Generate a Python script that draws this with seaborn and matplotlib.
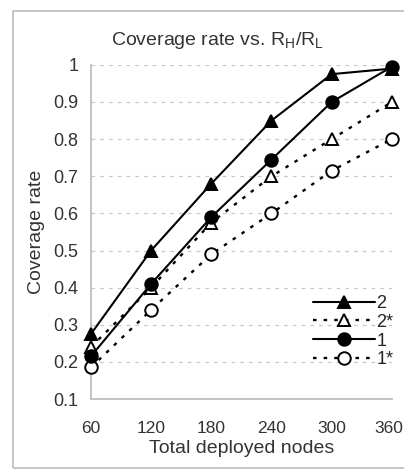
import matplotlib
matplotlib.use("Agg")
import matplotlib.pyplot as plt
import matplotlib.transforms as mtransforms
import seaborn as sns
import pandas as pd
from matplotlib.patches import Rectangle

nodes = [60, 120, 180, 240, 300, 360]
s2 = [0.275, 0.50, 0.68, 0.85, 0.975, 0.99]
s2_star = [0.24, 0.40, 0.575, 0.70, 0.80, 0.90]
s1 = [0.215, 0.41, 0.59, 0.745, 0.90, 0.995]
s1_star = [0.185, 0.34, 0.49, 0.60, 0.715, 0.80]
series_names = ["2", "2*", "1", "1*"]

df = pd.DataFrame({
    "nodes": nodes * 4,
    "rate": s2 + s2_star + s1 + s1_star,
    "series": sum([[n] * len(nodes) for n in series_names], []),
})

sns.set_theme(style="white")
plt.rcParams["font.family"] = ["Liberation Sans", "DejaVu Sans"]

fig = plt.figure(figsize=(4.04, 4.70), dpi=100)
ax = fig.add_axes([0.225, 0.151, 0.745, 0.711])

styles = {
    "2": dict(marker="^", mfc="black", ls="-", lw=1.5),
    "2*": dict(marker="^", mfc="white", ls=(0, (1.5, 3)), lw=1.7),
    "1": dict(marker="o", mfc="black", ls="-", lw=1.5),
    "1*": dict(marker="o", mfc="white", ls=(0, (1.5, 3)), lw=1.7),
}
order_draw = ["1*", "2*", "1", "2"]
for name in order_draw:
    st = styles[name]
    sub = df[df["series"] == name]
    sns.lineplot(data=sub, x="nodes", y="rate", ax=ax, color="black",
                 marker=st["marker"], markerfacecolor=st["mfc"],
                 markeredgecolor="black", markeredgewidth=1.4, markersize=9,
                 linestyle=st["ls"], linewidth=st["lw"], label=name,
                 clip_on=False, zorder=3)

ax.set_xlim(60, 360)
ax.set_ylim(0.1, 1.0)
ax.set_xticks(nodes)
ax.set_xticklabels([str(n) for n in nodes])
yt = [0.1, 0.2, 0.3, 0.4, 0.5, 0.6, 0.7, 0.8, 0.9, 1.0]
ax.set_yticks(yt)
ax.set_yticklabels(["0.1", "0.2", "0.3", "0.4", "0.5", "0.6", "0.7", "0.8", "0.9", "1"])
ax.tick_params(axis="y", labelsize=13, colors="#333333", length=0, pad=9)
ax.tick_params(axis="x", labelsize=12.5, labelcolor="#333333", color="#cccccc",
               direction="in", length=4, width=1, pad=16)
last = ax.get_xticklabels()[-1]
last.set_transform(last.get_transform() +
                   mtransforms.ScaledTranslation(-3 / 100, 0, fig.dpi_scale_trans))
for y in yt[1:]:
    ax.axhline(y, color="#c8c8c8", lw=0.9, ls=(0, (3, 4)), zorder=1)
ax.spines["top"].set_visible(False)
ax.spines["right"].set_visible(False)
ax.spines["left"].set_color("#bbbbbb")
ax.spines["bottom"].set_color("#bbbbbb")
ax.set_xlabel("Total deployed nodes", fontsize=14, color="#333333", labelpad=3)
ax.set_ylabel("Coverage rate", fontsize=14, color="#333333", labelpad=6)
ax.set_title(r"Coverage rate vs. R$_\mathregular{H}$/R$_\mathregular{L}$",
             fontsize=14, color="#333333", pad=14, x=0.42)

handles, labels = ax.get_legend_handles_labels()
hmap = dict(zip(labels, handles))
leg = ax.legend([hmap[n] for n in series_names], series_names, loc="lower right",
                bbox_to_anchor=(1.03, 0.07), frameon=False, fontsize=13,
                handlelength=3.4, handletextpad=0.1, labelspacing=0.1,
                borderaxespad=0)

fig.patches.append(Rectangle((13 / 404, 2 / 470), 1.2, 457 / 470,
                             transform=fig.transFigure, fill=False,
                             edgecolor="#bbbbbb", lw=1.2, zorder=0))

fig.savefig("out.png", dpi=100)
